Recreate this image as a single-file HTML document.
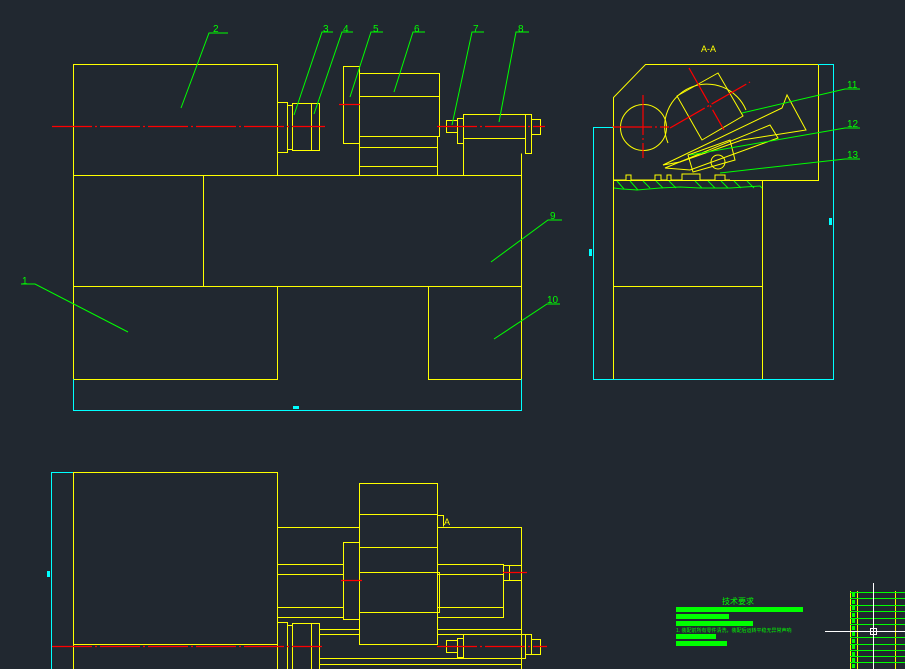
<!DOCTYPE html>
<html><head><meta charset="utf-8"><style>
html,body{margin:0;padding:0;background:#212830;}
svg{display:block}
text{font-family:"Liberation Sans","Noto Sans CJK SC",sans-serif;}
</style></head><body>
<svg width="905" height="669" viewBox="0 0 905 669" xmlns="http://www.w3.org/2000/svg">
<rect width="905" height="669" fill="#212830"/>
<g fill="none" stroke="#ffff00" stroke-width="1">
<!-- TOP VIEW -->
<rect x="73.5" y="64.5" width="204" height="111"/>
<rect x="73.5" y="175.5" width="448" height="111"/>
<line x1="203.5" y1="175.5" x2="203.5" y2="286.5"/>
<polyline points="73.5,286.5 73.5,379.5 277.5,379.5 277.5,286.5"/>
<polyline points="428.5,286.5 428.5,379.5 521.5,379.5 521.5,286.5"/>
<rect x="277.5" y="102.5" width="10" height="50"/>
<rect x="287.5" y="105.5" width="5" height="44"/>
<rect x="292.5" y="103.5" width="27" height="47"/>
<line x1="311.5" y1="103.5" x2="311.5" y2="150.5"/>
<rect x="343.5" y="66.5" width="16" height="77"/>
<rect x="359.5" y="73.5" width="80" height="63"/>
<line x1="359.5" y1="96.5" x2="439.5" y2="96.5"/>
<polyline points="359.5,136.5 359.5,175.5 437.5,175.5 437.5,136.5"/>
<line x1="359.5" y1="147.5" x2="437.5" y2="147.5"/>
<line x1="359.5" y1="166.5" x2="437.5" y2="166.5"/>
<rect x="446.5" y="120.5" width="11" height="12"/>
<rect x="457.5" y="118.5" width="6" height="25"/>
<rect x="463.5" y="114.5" width="62" height="24"/>
<polyline points="463.5,138.5 463.5,175.5"/>
<rect x="525.5" y="114.5" width="6" height="39"/>
<rect x="531.5" y="119.5" width="9" height="15"/>
<polyline points="521.5,153.5 521.5,175.5"/>
<!-- A-A VIEW -->
<polygon points="613.5,97.5 645.5,64.5 818.5,64.5 818.5,180.5 613.5,180.5"/>
<rect x="613.5" y="180.5" width="149" height="199"/>
<line x1="613.5" y1="286.5" x2="762.5" y2="286.5"/>
<circle cx="643.5" cy="127.5" r="23"/>
<path d="M668 143 A38 38 0 1 1 746 110"/>
<polygon points="677,96 718,73 743,116 702,140"/>
<polygon points="663,165 782,108 787,95 806,130 742,140 680,162"/>
<polygon points="665,168 770,125 778,138 690,170"/>
<polygon points="688,155 730,140 735,160 693,172"/>
<circle cx="718" cy="162" r="7"/>
<polyline points="613,180 626,180 626,175 631,175 631,180 655,180 655,175 661,175 661,180 667,180 667,175 671,175 671,180 682,180 682,174 700,174 700,180 715,180 715,175 725,175 725,180 730,180"/>
<!-- BOTTOM VIEW -->
<rect x="73.5" y="472.5" width="204" height="172"/>
<line x1="73.5" y1="644.5" x2="73.5" y2="669"/>
<line x1="277.5" y1="644.5" x2="277.5" y2="669"/>
<rect x="359.5" y="483.5" width="78" height="161"/>
<line x1="359.5" y1="514.5" x2="437.5" y2="514.5"/>
<line x1="359.5" y1="547.5" x2="437.5" y2="547.5"/>
<rect x="359.5" y="572.5" width="80" height="40"/>
<polyline points="437.5,515.5 443.5,515.5 443.5,526.5"/>
<polyline points="277.5,527.5 359.5,527.5"/>
<polyline points="437.5,527.5 521.5,527.5 521.5,669"/>
<line x1="277.5" y1="564.5" x2="343.5" y2="564.5"/>
<line x1="277.5" y1="574.5" x2="343.5" y2="574.5"/>
<line x1="277.5" y1="607.5" x2="343.5" y2="607.5"/>
<line x1="277.5" y1="617.5" x2="343.5" y2="617.5"/>
<polyline points="437.5,564.5 503.5,564.5 503.5,617.5 437.5,617.5"/>
<line x1="437.5" y1="574.5" x2="503.5" y2="574.5"/>
<line x1="437.5" y1="607.5" x2="503.5" y2="607.5"/>
<rect x="503.5" y="565.5" width="18" height="15"/>
<line x1="509.5" y1="565.5" x2="509.5" y2="580.5"/>
<rect x="343.5" y="542.5" width="16" height="77"/>
<rect x="277.5" y="622.5" width="10" height="47"/>
<rect x="287.5" y="625.5" width="5" height="44"/>
<rect x="292.5" y="623.5" width="27" height="46"/>
<line x1="311.5" y1="623.5" x2="311.5" y2="669"/>
<line x1="319.5" y1="629.5" x2="359.5" y2="629.5"/>
<line x1="319.5" y1="634.5" x2="359.5" y2="634.5"/>
<line x1="319.5" y1="658.5" x2="521.5" y2="658.5"/>
<line x1="319.5" y1="664.5" x2="521.5" y2="664.5"/>
<line x1="437.5" y1="629.5" x2="521.5" y2="629.5"/>
<line x1="437.5" y1="634.5" x2="463.5" y2="634.5"/>
<rect x="446.5" y="640.5" width="11" height="12"/>
<rect x="457.5" y="638.5" width="6" height="19"/>
<rect x="463.5" y="634.5" width="62" height="24"/>
<rect x="525.5" y="634.5" width="6" height="20"/>
<rect x="531.5" y="639.5" width="9" height="15"/>
<!-- table -->
<line x1="850.5" y1="591" x2="850.5" y2="669"/>
<line x1="857.5" y1="591" x2="857.5" y2="669"/>
<line x1="895.5" y1="591" x2="895.5" y2="669"/>
</g>
<!-- centerlines -->
<g stroke="#ff0000" stroke-width="1.2" stroke-dasharray="40,3,2,3">
<line x1="52" y1="126.5" x2="325" y2="126.5"/>
<line x1="437" y1="126.5" x2="545" y2="126.5"/>
<line x1="339" y1="104.5" x2="360" y2="104.5"/>
<line x1="612" y1="127" x2="669" y2="127"/>
<line x1="643" y1="95" x2="643" y2="158"/>
<line x1="689" y1="68" x2="724" y2="130"/>
<line x1="670" y1="128" x2="750" y2="82"/>
<line x1="52" y1="646.5" x2="322" y2="646.5"/>
<line x1="437" y1="646.5" x2="547" y2="646.5"/>
<line x1="341" y1="580.5" x2="362" y2="580.5"/>
<line x1="503" y1="572.5" x2="527" y2="572.5"/>
</g>
<!-- cyan dims -->
<g stroke="#00ffff" stroke-width="1" fill="none">
<polyline points="73.5,379 73.5,410.5 521.5,410.5 521.5,379"/>
<polyline points="818,64.5 833.5,64.5 833.5,379.5 593.5,379.5 593.5,127.5 613,127.5"/>
<polyline points="73,472.5 51.5,472.5 51.5,669"/>
</g>
<g fill="#00ffff">
<rect x="293" y="406" width="6" height="3"/>
<rect x="589" y="249" width="3" height="7"/>
<rect x="829" y="218" width="3" height="7"/>
<rect x="47" y="571" width="3" height="6"/>
</g>
<!-- hatch -->
<g stroke="#00ff00" stroke-width="1">
<polyline points="614,188 622,189 637,190 660,188 680,187 700,188 730,188 760,186 762,188" fill="none"/>
<line x1="617" y1="181" x2="624" y2="189"/><line x1="630" y1="181" x2="638" y2="190"/>
<line x1="643" y1="181" x2="650" y2="188"/><line x1="656" y1="181" x2="663" y2="188"/>
<line x1="669" y1="181" x2="676" y2="188"/><line x1="695" y1="181" x2="702" y2="188"/>
<line x1="708" y1="181" x2="715" y2="188"/><line x1="721" y1="181" x2="728" y2="188"/>
<line x1="734" y1="181" x2="741" y2="188"/><line x1="747" y1="181" x2="754" y2="188"/>
</g>
<!-- leaders -->
<g stroke="#00ff00" stroke-width="1" fill="none">
<polyline points="228,33 209,33 181,108"/>
<polyline points="333,32 322,32 294,115"/>
<polyline points="353,32 342,32 314,114"/>
<polyline points="383,32 371,32 350,97"/>
<polyline points="425,32 413,32 394,92"/>
<polyline points="484,32 472,32 452,125"/>
<polyline points="529,32 516,32 499,122"/>
<polyline points="562,220 548,220 491,262"/>
<polyline points="560,304 547,304 494,339"/>
<polyline points="21,284 35,284 128,332"/>
<polyline points="860,89 845,89 742,113"/>
<polyline points="860,128 845,128 690,155"/>
<polyline points="860,159 845,159 720,173"/>
</g>
<g fill="#00ff00" font-size="10">
<text x="213" y="32">2</text><text x="323" y="32">3</text><text x="343" y="32">4</text>
<text x="373" y="32">5</text><text x="414" y="32">6</text><text x="473" y="32">7</text>
<text x="518" y="32">8</text><text x="550" y="219">9</text><text x="547" y="303">10</text>
<text x="22" y="284">1</text><text x="847" y="88">11</text><text x="847" y="127">12</text><text x="847" y="158">13</text>
</g>
<text x="701" y="52" fill="#ffff00" font-size="9">A-A</text>
<text x="444" y="525" fill="#ffff00" font-size="9">A</text>
<!-- tech requirements -->
<text x="722" y="604" fill="#00ff00" font-size="8">技术要求</text>
<g fill="#00ff00">
<rect x="676" y="607" width="127" height="5"/>
<rect x="676" y="614" width="53" height="5"/>
<rect x="676" y="621" width="77" height="5"/>
<rect x="676" y="634" width="40" height="5"/>
<rect x="676" y="641" width="51" height="5"/>
</g>
<text x="676" y="632" fill="#00ff00" font-size="5">1. 装配前所有零件清洗，装配后运转平稳无异常声响</text>
<g stroke="#00ff00" stroke-width="1">
<line x1="850" y1="592.5" x2="905" y2="592.5"/><line x1="850" y1="598.5" x2="905" y2="598.5"/>
<line x1="850" y1="605.5" x2="905" y2="605.5"/><line x1="850" y1="611.5" x2="905" y2="611.5"/>
<line x1="850" y1="618.5" x2="905" y2="618.5"/><line x1="850" y1="624.5" x2="905" y2="624.5"/>
<line x1="850" y1="631.5" x2="905" y2="631.5"/><line x1="850" y1="637.5" x2="905" y2="637.5"/>
<line x1="850" y1="644.5" x2="905" y2="644.5"/><line x1="850" y1="650.5" x2="905" y2="650.5"/>
<line x1="850" y1="656.5" x2="905" y2="656.5"/><line x1="850" y1="662.5" x2="905" y2="662.5"/>
</g>
<g fill="#00ff00">
<rect x="852" y="593" width="3" height="4"/><rect x="852" y="600" width="3" height="4"/>
<rect x="852" y="606" width="3" height="4"/><rect x="852" y="613" width="3" height="4"/>
<rect x="852" y="619" width="3" height="4"/><rect x="852" y="626" width="3" height="4"/>
<rect x="852" y="632" width="3" height="4"/><rect x="852" y="639" width="3" height="4"/>
<rect x="852" y="645" width="3" height="4"/><rect x="852" y="652" width="3" height="4"/>
<rect x="852" y="658" width="3" height="4"/><rect x="852" y="664" width="3" height="4"/>
</g>
<g stroke="#ffffff" stroke-width="1" fill="none">
<line x1="873.5" y1="583" x2="873.5" y2="669"/>
<line x1="825" y1="631.5" x2="905" y2="631.5"/>
<rect x="870.5" y="628.5" width="6" height="6"/>
</g>
</svg>
</body></html>
